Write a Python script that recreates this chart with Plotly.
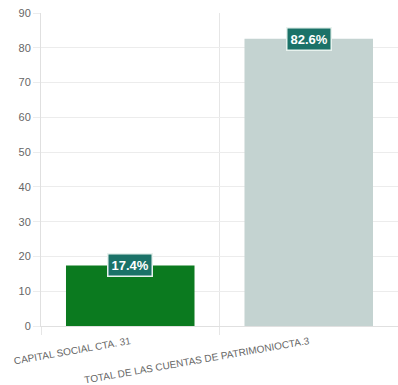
import plotly.graph_objects as go

categories = ["CAPITAL SOCIAL CTA. 31", "TOTAL DE LAS CUENTAS DE PATRIMONIOCTA.3"]
values = [17.4, 82.6]
bar_colors = ["#0b7a1f", "#c4d3d1"]
y_ticks = [0, 10, 20, 30, 40, 50, 60, 70, 80, 90]

fig = go.Figure()
fig.add_trace(go.Bar(
    x=categories, y=values,
    marker=dict(color=bar_colors, line=dict(width=0)),
    width=0.72,
))

# data labels centered on the top of each bar
for cat, val in zip(categories, values):
    fig.add_annotation(
        x=cat, y=val, text=f"<b>{val:.1f}%</b>",
        showarrow=False, xanchor="center", yanchor="middle",
        font=dict(family="Liberation Sans, Arial", size=13, color="white"),
        bgcolor="#1b7268", bordercolor="#e8f2ee", borderwidth=1.5, borderpad=3,
    )

fig.update_layout(
    width=398, height=385,
    margin=dict(l=41, r=0, t=13, b=59),
    paper_bgcolor="white", plot_bgcolor="white",
    showlegend=False,
    font=dict(family="Liberation Sans, Arial", size=11, color="#666"),
    xaxis=dict(
        type="category", tickson="boundaries", showgrid=True,
        gridcolor="#e6e6e6", gridwidth=1, automargin=False,
        ticks="outside", ticklen=8, tickcolor="#e6e6e6",
        tickangle=-10, ticklabelstandoff=5,
        tickfont=dict(size=10, color="#666"),
        showline=True, linecolor="#e0e0e0", zeroline=False,
    ),
    yaxis=dict(
        range=[0, 90], tickvals=y_ticks, automargin=False,
        showgrid=True, gridcolor="#ececec", gridwidth=1,
        ticks="outside", ticklen=7, tickcolor="#ececec",
        showline=True, linecolor="#e0e0e0", zeroline=False,
        tickfont=dict(size=11, color="#666"),
    ),
)

# drop the default 8px page margin so the figure sits at the window corner
fig.write_html("out.html", config={"displayModeBar": False},
               post_script="document.body.style.margin='0';")
